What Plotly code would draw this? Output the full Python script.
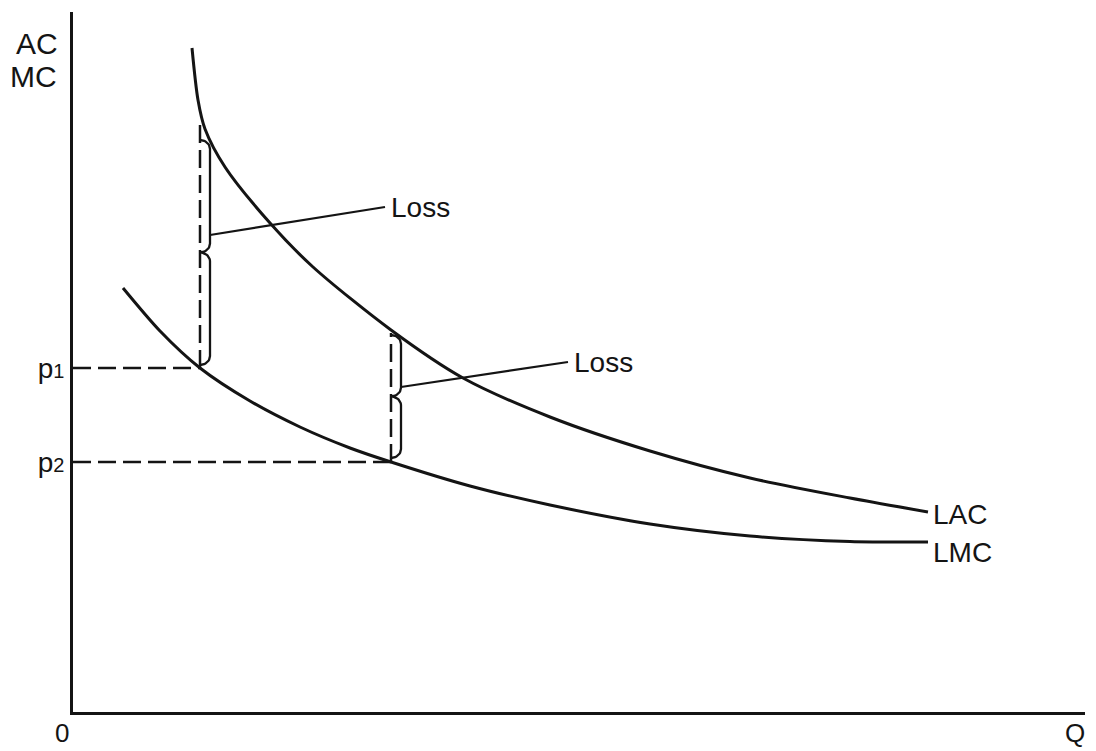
import numpy as np
import plotly.graph_objects as go

# ---- data ----
lac_q = [1.19, 1.25, 1.32, 1.52, 1.97, 2.40, 3.18, 3.90, 4.77, 5.77, 6.77, 7.77, 8.55]
lac_c = [6.64, 6.12, 5.83, 5.45, 4.89, 4.45, 3.82, 3.34, 2.95, 2.61, 2.34, 2.14, 2.00]

lmc_q = [0.50, 0.87, 1.27, 1.77, 2.27, 2.77, 3.18, 3.97, 4.77, 5.77, 6.77, 7.77, 8.55]
lmc_c = [4.24, 3.81, 3.44, 3.11, 2.85, 2.64, 2.50, 2.26, 2.07, 1.88, 1.76, 1.705, 1.70]

q_points = [1.27, 3.18]          # outputs marked with dashed lines
p_points = [3.44, 2.50]          # p1, p2 (LMC at those outputs)
ac_points = [5.94, 3.79]         # top of the vertical dashed lines (LAC)
p_labels = ["p1", "p2"]

brace_top = [5.72, 3.77]
brace_bottom = [3.47, 2.54]
leader_from_y = [4.77, 3.25]
leader_to = [(3.12, 5.05), (4.95, 3.50)]
loss_text = ["Loss", "Loss"]

x_max, y_max = 10.12, 7.0
INK = "#141414"
FONT = "Liberation Sans, Arial, sans-serif"

fig = go.Figure()

# curves
for qs, cs in [(lac_q, lac_c), (lmc_q, lmc_c)]:
    fig.add_trace(go.Scatter(x=qs, y=cs, mode="lines",
                             line=dict(color=INK, width=3, shape="spline", smoothing=0.8),
                             hoverinfo="skip", showlegend=False))

# dashed guide lines
for q, p, ac in zip(q_points, p_points, ac_points):
    fig.add_trace(go.Scatter(x=[0, q], y=[p, p], mode="lines",
                             line=dict(color=INK, width=2.5, dash="18px,7px"),
                             hoverinfo="skip", showlegend=False))
    fig.add_trace(go.Scatter(x=[q, q], y=[p, ac], mode="lines",
                             line=dict(color=INK, width=2.5, dash="18px,7px"),
                             hoverinfo="skip", showlegend=False))


def brace(q, top, bottom, w=0.10, r=0.09):
    mid = (top + bottom) / 2.0
    t = np.linspace(0, np.pi / 2, 12)
    xs, ys = [], []
    for a, b in [(top, mid), (mid, bottom)]:
        xs += list(q + w * np.sin(t)); ys += list(a - r * (1 - np.cos(t)))
        xs += [q + w]; ys += [b + r]
        xs += list(q + w * np.cos(t)); ys += list(b + r - r * np.sin(t))
    return xs, ys


for i, q in enumerate(q_points):
    bx, by = brace(q, brace_top[i], brace_bottom[i])
    fig.add_trace(go.Scatter(x=bx, y=by, mode="lines",
                             line=dict(color=INK, width=2.3),
                             hoverinfo="skip", showlegend=False))
    lx, ly = leader_to[i]
    fig.add_trace(go.Scatter(x=[q + 0.10, lx], y=[leader_from_y[i], ly], mode="lines",
                             line=dict(color=INK, width=2.2),
                             hoverinfo="skip", showlegend=False))
    fig.add_annotation(x=lx, y=ly, xref="x", yref="y", text=loss_text[i],
                       showarrow=False, xanchor="left", yanchor="middle", xshift=4,
                       font=dict(family=FONT, size=28, color=INK))

# curve labels
fig.add_annotation(x=lac_q[-1], y=lac_c[-1], text="LAC", showarrow=False,
                   xanchor="left", yanchor="middle", xshift=3, yshift=-2,
                   font=dict(family=FONT, size=28, color=INK))
fig.add_annotation(x=lmc_q[-1], y=lmc_c[-1], text="LMC", showarrow=False,
                   xanchor="left", yanchor="middle", xshift=3, yshift=-10,
                   font=dict(family=FONT, size=28, color=INK))

# axis labels
fig.add_annotation(x=-0.036, y=0.955, xref="paper", yref="paper", text="AC",
                   showarrow=False, xanchor="center", yanchor="middle",
                   font=dict(family=FONT, size=30, color=INK))
fig.add_annotation(x=-0.039, y=0.908, xref="paper", yref="paper", text="MC",
                   showarrow=False, xanchor="center", yanchor="middle",
                   font=dict(family=FONT, size=30, color=INK))
fig.add_annotation(x=-0.011, y=-0.030, xref="paper", yref="paper", text="0",
                   showarrow=False, xanchor="center", yanchor="middle",
                   font=dict(family=FONT, size=26, color=INK))
fig.add_annotation(x=0.990, y=-0.030, xref="paper", yref="paper", text="Q",
                   showarrow=False, xanchor="center", yanchor="middle",
                   font=dict(family=FONT, size=26, color=INK))

tick_text = ["p<span style='font-size:20px'>%s</span>" % s[1:] for s in p_labels]

fig.update_layout(
    width=1096, height=751,
    margin=dict(l=73, r=11, t=12, b=39),
    paper_bgcolor="white", plot_bgcolor="white",
    xaxis=dict(range=[0, x_max], showgrid=False, zeroline=False, showline=True,
               linecolor=INK, linewidth=3, showticklabels=False, ticks=""),
    yaxis=dict(range=[0, y_max], showgrid=False, zeroline=False, showline=True,
               linecolor=INK, linewidth=3, tickvals=p_points, ticktext=tick_text,
               ticks="", tickfont=dict(family=FONT, size=28, color=INK)),
)

fig.write_html("out.html", config={"displayModeBar": False},
               post_script="document.body.style.margin='0';document.body.style.overflow='hidden';")
